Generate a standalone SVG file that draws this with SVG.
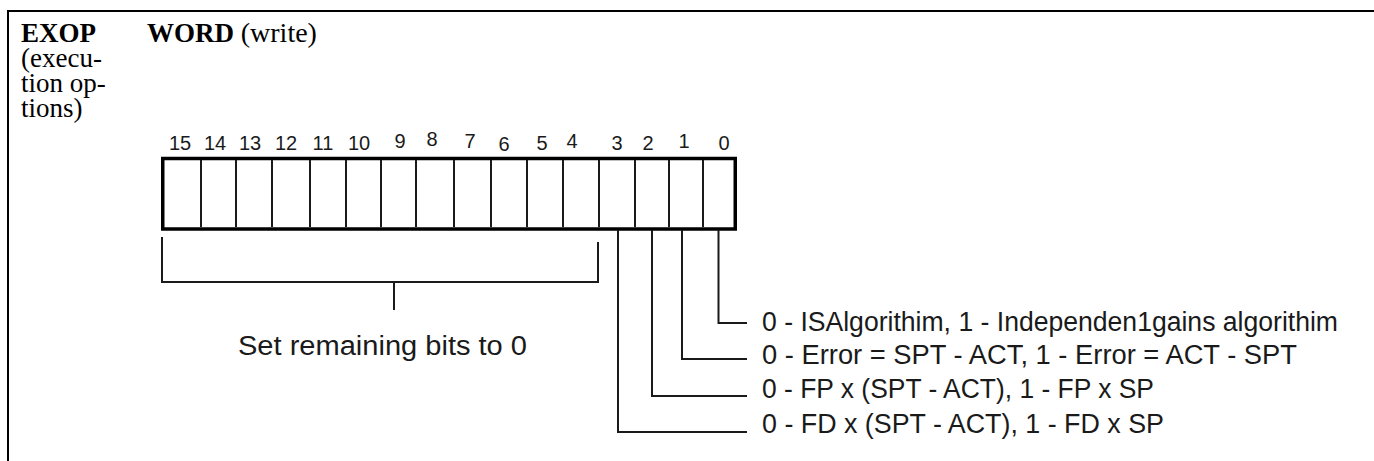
<svg xmlns="http://www.w3.org/2000/svg" width="1374" height="461" viewBox="0 0 1374 461">
<style>
.hdr{font-family:"Liberation Serif","Times New Roman",serif;font-size:27px;fill:#000}
.b{font-weight:bold}
.px{font-family:"Liberation Sans",Arial,sans-serif;fill:#1a1a1a}
.bit{font-size:20px;text-anchor:middle}
.lbl{font-size:27px}
.ln{fill:none;stroke:#1a1a1a;stroke-width:2}
</style>
<rect width="1374" height="461" fill="#fff"/>
<g id="frame">
<path d="M8,461 V11 H1374" fill="none" stroke="#000" stroke-width="2"/>
</g>
<g id="header">
<text class="hdr" x="21" y="42"><tspan class="b">EXOP</tspan><tspan x="21" dy="25">(execu-</tspan><tspan x="21" dy="25">tion op-</tspan><tspan x="21" dy="25">tions)</tspan></text>
<text class="hdr" x="147" y="42"><tspan class="b">WORD</tspan> <tspan font-size="28">(write)</tspan></text>
</g>
<g id="register">
<rect x="162.75" y="158.5" width="572.5" height="70.5" fill="#fff" stroke="#000" stroke-width="3.5"/>
<path class="ln" d="M201,160V227M236,160V227M272,160V227M310,160V227M346,160V227M381,160V227M416,160V227M454,160V227M491,160V227M527,160V227M563,160V227M599,160V227M635,160V227M669,160V227M703,160V227"/>
</g>
<g id="bit-labels" class="px bit">
<text x="180" y="150">15</text>
<text x="215" y="150">14</text>
<text x="250" y="150">13</text>
<text x="286" y="150">12</text>
<text x="323" y="150">11</text>
<text x="359" y="150">10</text>
<text x="400" y="148">9</text>
<text x="432" y="146">8</text>
<text x="470" y="148">7</text>
<text x="504" y="151">6</text>
<text x="542" y="150">5</text>
<text x="572" y="148">4</text>
<text x="617" y="150">3</text>
<text x="648" y="150">2</text>
<text x="684" y="148">1</text>
<text x="724" y="150">0</text>
</g>
<g id="connectors">
<path class="ln" d="M162,237V282H598V242M394,282V310"/>
<path class="ln" d="M718.5,230V323H747"/>
<path class="ln" d="M682,230V359H747"/>
<path class="ln" d="M652,230V396H747"/>
<path class="ln" d="M618,230V432H747"/>
</g>
<g id="remaining">
<text class="px lbl" x="238" y="355" textLength="289" lengthAdjust="spacingAndGlyphs">Set remaining bits to 0</text>
</g>
<g id="bit0"><text class="px lbl" x="762" y="331" textLength="576" lengthAdjust="spacingAndGlyphs">0 - ISAlgorithim, 1 - Independen1gains algorithim</text></g>
<g id="bit1"><text class="px lbl" x="762" y="364" textLength="535" lengthAdjust="spacingAndGlyphs">0 - Error = SPT - ACT, 1 - Error = ACT - SPT</text></g>
<g id="bit2"><text class="px lbl" x="762" y="398" textLength="392" lengthAdjust="spacingAndGlyphs">0 - FP x (SPT - ACT), 1 - FP x SP</text></g>
<g id="bit3"><text class="px lbl" x="762" y="433" textLength="402" lengthAdjust="spacingAndGlyphs">0 - FD x (SPT - ACT), 1 - FD x SP</text></g>
</svg>
